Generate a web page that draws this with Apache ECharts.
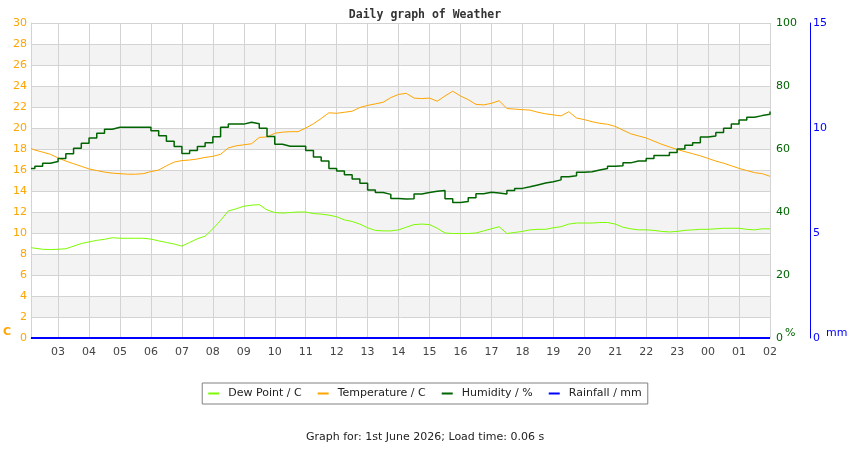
<!DOCTYPE html>
<html>
<head>
<meta charset="utf-8">
<title>Daily graph of Weather</title>
<script src="https://cdn.jsdelivr.net/npm/echarts@6/dist/echarts.min.js"></script>
<style>
  html, body { margin: 0; padding: 0; background: #fff; }
  #chart { width: 850px; height: 450px; }
</style>
</head>
<body>
<div id="chart"></div>
<script>
// hours since midnight of the graph day (24+ = next day)
const times = [
  2.125, 2.25, 2.5, 2.75,
  3, 3.25, 3.5, 3.75,   4, 4.25, 4.5, 4.75,   5, 5.25, 5.5, 5.75,
  6, 6.25, 6.5, 6.75,   7, 7.25, 7.5, 7.75,   8, 8.25, 8.5, 8.75,
  9, 9.25, 9.5, 9.75,   10, 10.25, 10.5, 10.75, 11, 11.25, 11.5, 11.75,
  12, 12.25, 12.5, 12.75, 13, 13.25, 13.5, 13.75, 14, 14.25, 14.5, 14.75,
  15, 15.25, 15.5, 15.75, 16, 16.25, 16.5, 16.75, 17, 17.25, 17.5, 17.75,
  18, 18.25, 18.5, 18.75, 19, 19.25, 19.5, 19.75, 20, 20.25, 20.5, 20.75,
  21, 21.25, 21.5, 21.75, 22, 22.25, 22.5, 22.75, 23, 23.25, 23.5, 23.75,
  24, 24.25, 24.5, 24.75, 25, 25.25, 25.5, 25.75,
  26
];

const dewPoint = [
  8.6, 8.55, 8.45, 8.42,
  8.45, 8.5, 8.75, 9.0,    9.15, 9.3, 9.4, 9.55,    9.5, 9.5, 9.5, 9.5,
  9.42, 9.25, 9.1, 8.95,   8.75, 9.1, 9.45, 9.7,    10.4, 11.2, 12.1, 12.3,
  12.55, 12.65, 12.7, 12.2, 11.95, 11.9, 11.95, 12.0, 12.0, 11.85, 11.8, 11.7,
  11.55, 11.25, 11.1, 10.85, 10.5, 10.25, 10.2, 10.2, 10.3, 10.55, 10.8, 10.85,
  10.8, 10.45, 10.0, 9.95,  9.95, 9.95, 10.0, 10.2,  10.4, 10.6, 9.95, 10.05,
  10.15, 10.3, 10.35, 10.35, 10.5, 10.6, 10.85, 10.95, 10.95, 10.95, 11.0, 11.0,
  10.85, 10.55, 10.4, 10.3, 10.3, 10.25, 10.15, 10.1, 10.15, 10.25, 10.3, 10.35,
  10.35, 10.4, 10.45, 10.45, 10.45, 10.35, 10.3, 10.4,
  10.4
];

const temperature = [
  18.05, 17.9, 17.7, 17.5,
  17.15, 16.85, 16.6, 16.35, 16.1, 15.95, 15.8, 15.7,  15.65, 15.6, 15.6, 15.65,
  15.85, 16.0, 16.4, 16.75,  16.9, 16.95, 17.05, 17.2, 17.3, 17.5, 18.1, 18.3,
  18.4, 18.5, 19.1, 19.15,   19.5, 19.6, 19.65, 19.65, 20.0, 20.4, 20.9, 21.45,
  21.4, 21.5, 21.6, 21.95,   22.15, 22.3, 22.45, 22.9, 23.2, 23.3, 22.85, 22.8,
  22.85, 22.55, 23.05, 23.5, 23.05, 22.7, 22.25, 22.2, 22.35, 22.6, 21.85, 21.8,
  21.75, 21.7, 21.5, 21.35,  21.25, 21.15, 21.55, 20.95, 20.8, 20.6, 20.45, 20.35,
  20.15, 19.8, 19.45, 19.25, 19.05, 18.75, 18.45, 18.2, 17.95, 17.75, 17.55, 17.35,
  17.1, 16.85, 16.65, 16.4,  16.15, 15.95, 15.75, 15.65,
  15.4
];

const humidity = [
  53.8, 54.5, 55.5, 56.0,
  57.0, 58.5, 60.2, 61.8,  63.5, 65.0, 66.3, 66.9,  66.9, 66.9, 66.9, 66.9,
  65.8, 64.2, 62.5, 60.8,  58.6, 59.5, 60.8, 62.0,  63.9, 66.9, 67.9, 67.9,
  68.5, 68.0, 66.6, 64.0,  61.5, 60.9, 60.9, 60.9,  59.5, 57.5, 56.2, 53.8,
  53.0, 51.8, 50.5, 49.1,  47.0, 46.2, 45.6, 44.3,  44.1, 44.2, 45.7, 46.2,
  46.6, 46.8, 44.2, 43.0,  43.3, 44.5, 45.8, 46.3,  46.0, 45.7, 46.8, 47.5,
  48.0, 48.6, 49.2, 49.6,  50.2, 51.2, 51.5, 52.6,  52.8, 53.3, 53.8, 54.5,
  54.7, 55.6, 56.2, 56.2,  57.0, 57.9, 57.9, 58.9,  60.0, 61.2, 62.0, 63.8,
  64.1, 65.2, 66.6, 67.95, 69.2, 70.1, 70.6, 71.0,
  71.9
];

const rainfall = [
  0, 0, 0, 0,
  0, 0, 0, 0, 0, 0, 0, 0, 0, 0, 0, 0,
  0, 0, 0, 0, 0, 0, 0, 0, 0, 0, 0, 0,
  0, 0, 0, 0, 0, 0, 0, 0, 0, 0, 0, 0,
  0, 0, 0, 0, 0, 0, 0, 0, 0, 0, 0, 0,
  0, 0, 0, 0, 0, 0, 0, 0, 0, 0, 0, 0,
  0, 0, 0, 0, 0, 0, 0, 0, 0, 0, 0, 0,
  0, 0, 0, 0, 0, 0, 0, 0, 0, 0, 0, 0,
  0, 0, 0, 0, 0, 0, 0, 0,
  0
];

const tickHours = [3, 4, 5, 6, 7, 8, 9, 10, 11, 12, 13, 14, 15, 16, 17, 18, 19, 20, 21, 22, 23, 24, 25, 26];
const hourLabels = ['03', '04', '05', '06', '07', '08', '09', '10', '11', '12', '13', '14',
  '15', '16', '17', '18', '19', '20', '21', '22', '23', '00', '01', '02'];

const font = 'DejaVu Sans';
const gridColor = '#d3d3d3';

function pairs(vals) {
  return times.map((t, i) => [t, vals[i]]);
}

const chart = echarts.init(document.getElementById('chart'));
chart.setOption({
  animation: false,
  title: {
    text: 'Daily graph of Weather',
    left: 'center',
    top: 4,
    textStyle: { fontFamily: 'DejaVu Sans Mono', fontSize: 11.5, fontWeight: 'bold', color: '#333' }
  },
  legend: {
    left: 'center',
    top: 383,
    padding: [5, 6],
    itemGap: 16,
    itemWidth: 11,
    itemHeight: 2,
    icon: 'rect',
    borderColor: '#808080',
    borderWidth: 1,
    textStyle: { fontFamily: font, fontSize: 11, color: '#222', padding: [0, 0, 0, 4] },
    data: ['Dew Point / C', 'Temperature / C', 'Humidity / %', 'Rainfall / mm']
  },
  grid: { left: 31, right: 80, top: 23, bottom: 112 },
  xAxis: {
    type: 'value',
    min: 2.125,
    max: 26,
    axisLine: { show: true, lineStyle: { color: gridColor } },
    axisTick: { show: false, customValues: tickHours },
    axisLabel: {
      customValues: tickHours,
      margin: 9,
      color: '#444',
      fontFamily: font,
      fontSize: 11,
      formatter: (v) => hourLabels[tickHours.indexOf(Math.round(v))]
    },
    splitLine: { show: true, lineStyle: { color: gridColor } }
  },
  yAxis: [
    {
      type: 'value', min: 0, max: 30, interval: 2, position: 'left',
      axisLine: { show: true, lineStyle: { color: gridColor } },
      axisTick: { show: false },
      axisLabel: { color: '#ffa500', fontFamily: font, fontSize: 11, margin: 4 },
      splitLine: { show: true, lineStyle: { color: gridColor } },
      splitArea: { show: true, areaStyle: { color: ['#ffffff', '#f3f3f3'] } }
    },
    {
      type: 'value', min: 0, max: 100, interval: 20, position: 'right',
      axisLine: { show: false },
      axisTick: { show: false },
      axisLabel: { color: '#006400', fontFamily: font, fontSize: 11, margin: 6 },
      splitLine: { show: false }
    },
    {
      type: 'value', min: 0, max: 15, interval: 5, position: 'right', offset: 40,
      axisLine: { show: true, lineStyle: { color: '#0000ff' } },
      axisTick: { show: false },
      axisLabel: { color: '#0000ff', fontFamily: font, fontSize: 11, margin: 3 },
      splitLine: { show: false }
    }
  ],
  graphic: [
    { type: 'text', left: 3, top: 327, style: { text: 'C', fill: '#ffa500', font: 'bold 11px DejaVu Sans' } },
    { type: 'text', left: 785, top: 328, style: { text: '%', fill: '#006400', font: '11px DejaVu Sans' } },
    { type: 'text', left: 826, top: 328, style: { text: 'mm', fill: '#0000ff', font: '11px DejaVu Sans' } },
    {
      type: 'text', left: 'center', top: 432,
      style: { text: 'Graph for: 1st June 2026; Load time: 0.06 s', fill: '#222', font: '11px DejaVu Sans' }
    }
  ],
  series: [
    {
      name: 'Dew Point / C', type: 'line', yAxisIndex: 0, data: pairs(dewPoint),
      symbol: 'none', color: '#7cfc00', lineStyle: { width: 1 }
    },
    {
      name: 'Temperature / C', type: 'line', yAxisIndex: 0, data: pairs(temperature),
      symbol: 'none', color: '#ffa500', lineStyle: { width: 1 }
    },
    {
      name: 'Humidity / %', type: 'line', yAxisIndex: 1, data: pairs(humidity),
      symbol: 'none', step: 'end', color: '#006400', lineStyle: { width: 1.5 }
    },
    {
      name: 'Rainfall / mm', type: 'line', yAxisIndex: 2, data: pairs(rainfall),
      symbol: 'none', color: '#0000ff', lineStyle: { width: 2 }
    }
  ]
});
</script>
</body>
</html>
